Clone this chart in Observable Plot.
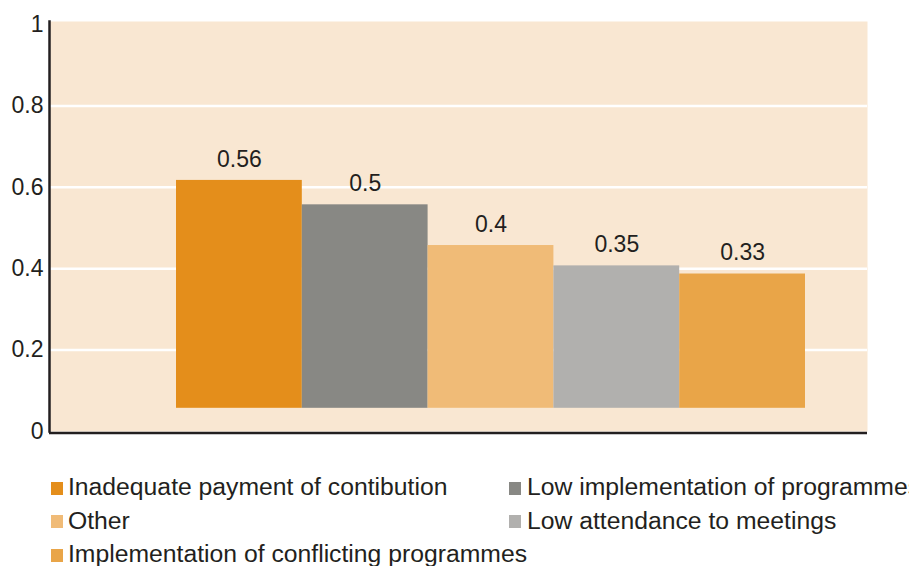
<!DOCTYPE html>
<html>
<head>
<meta charset="utf-8">
<script src="https://cdn.jsdelivr.net/npm/d3@7"></script>
<script src="https://cdn.jsdelivr.net/npm/@observablehq/plot@0.6"></script>
<style>
  body { margin: 0; background: #fff; font-family: "Liberation Sans", Arial, sans-serif; color: #231f20; }
  #chart svg { display: block; }
  #legend { position: relative; width: 909px; height: 121px; overflow: hidden; }
  .item { position: absolute; height: 33.5px; display: flex; align-items: center; white-space: nowrap; }
  .sw { width: 12px; height: 13px; margin-right: 5.5px; flex: none; }
  .lab { font-size: 23px; line-height: 33.5px; transform: scaleX(1.075); transform-origin: left center; }
</style>
</head>
<body>
<div id="chart"></div>
<div id="legend"></div>
<script>
const categories = [
  "Inadequate payment of contibution",
  "Low implementation of programmes",
  "Other",
  "Low attendance to meetings",
  "Implementation of conflicting programmes"
];
const values = [0.56, 0.5, 0.4, 0.35, 0.33];
const colors = ["#E48E1B", "#888884", "#F0BB77", "#B1B0AE", "#E9A548"];
const yTicks = [0, 0.2, 0.4, 0.6, 0.8, 1];
const gridValues = [0.2, 0.4, 0.6, 0.8];
const base = 0.057; // bars float slightly above the axis in the original

const data = categories.map((c, i) => ({ category: c, value: values[i], color: colors[i] }));

const chart = Plot.plot({
  width: 909,
  height: 445,
  marginLeft: 49,
  marginRight: 42,
  marginTop: 21,
  marginBottom: 14,
  style: { fontFamily: "Liberation Sans, Arial, sans-serif", fontSize: "23px", color: "#231f20", background: "transparent" },
  x: { domain: categories, range: [176, 805], padding: 0, round: false, axis: null },
  y: { domain: [0, 1.0075], label: null, axis: null },
  marks: [
    Plot.frame({ fill: "#F9E7D2", stroke: null }),
    Plot.ruleY(gridValues, { stroke: "#ffffff", strokeWidth: 2.5 }),
    Plot.barY(data, { x: "category", y1: () => base, y2: d => d.value + base, fill: d => d.color }),
    Plot.text(data, { x: "category", y: d => d.value + base, text: d => String(d.value), dy: -21, fontSize: 23, fill: "#231f20" }),
    Plot.axisY(yTicks, { tickSize: 0, tickPadding: 6, fontSize: 23, tickFormat: d => String(d), label: null, fill: "#231f20" }),
    Plot.frame({ anchor: "left", stroke: "#231f20", strokeWidth: 2.5 }),
    Plot.ruleY([0], { stroke: "#231f20", strokeWidth: 2.5, dy: 1.5 })
  ]
});
document.getElementById("chart").appendChild(chart);

// legend
const legend = document.getElementById("legend");
const lefts = [50.7, 509.3];
categories.forEach((c, i) => {
  const col = i % 2, row = Math.floor(i / 2);
  const item = document.createElement("div");
  item.className = "item";
  item.style.left = lefts[col] + "px";
  item.style.top = (26.3 + row * 33.5) + "px";
  const sw = document.createElement("span");
  sw.className = "sw";
  sw.style.background = colors[i];
  const lab = document.createElement("span");
  lab.className = "lab";
  lab.textContent = c;
  item.appendChild(sw);
  item.appendChild(lab);
  legend.appendChild(item);
});
</script>
</body>
</html>
